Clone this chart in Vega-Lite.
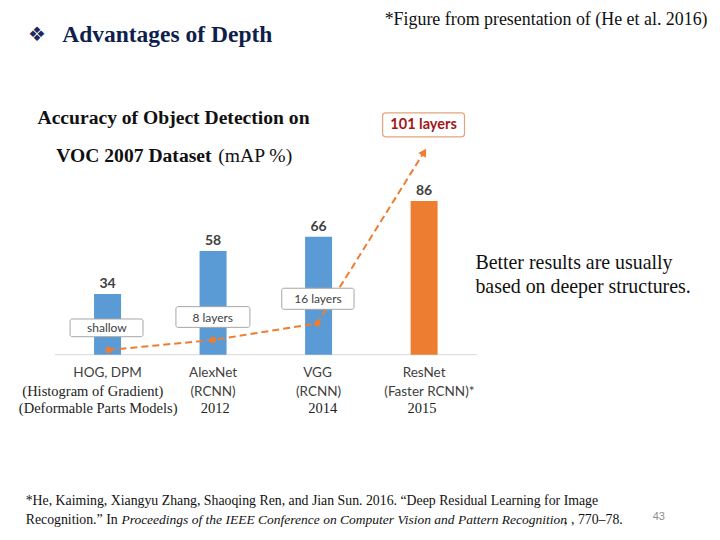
{
  "$schema": "https://vega.github.io/schema/vega-lite/v6.json",
  "width": 720,
  "height": 540,
  "padding": 0,
  "autosize": {"type": "fit", "contains": "padding"},
  "background": "white",
  "config": {"view": {"stroke": null}},
  "datasets": {
    "bars": [
      {"model": "HOG, DPM", "idx": 0, "mAP": 34, "family": "earlier"},
      {"model": "AlexNet", "idx": 1, "mAP": 58, "family": "earlier"},
      {"model": "VGG", "idx": 2, "mAP": 66, "family": "earlier"},
      {"model": "ResNet", "idx": 3, "mAP": 86, "family": "ResNet"}
    ],
    "depth": [
      {"step": 1, "x": 0.009, "y": 2.63},
      {"step": 2, "x": 1.0, "y": 8.23},
      {"step": 3, "x": 1.988, "y": 17.57},
      {"step": 4, "x": 3.0, "y": 113.4}
    ],
    "boxes": [
      {"label": "shallow", "kind": "gray", "x1": -0.355, "x2": 0.336, "y1": 10.07, "y2": 19.98, "tx": -0.006, "ty": 15.1},
      {"label": "8 layers", "kind": "gray", "x1": 0.648, "x2": 1.349, "y1": 15.3, "y2": 26.9, "tx": 0.997, "ty": 20.7},
      {"label": "16 layers", "kind": "gray", "x1": 1.651, "x2": 2.336, "y1": 25.4, "y2": 37.2, "tx": 1.994, "ty": 31.0},
      {"label": "101 layers", "kind": "red", "x1": 2.607, "x2": 3.383, "y1": 121.9, "y2": 135.3, "tx": 2.995, "ty": 128.6}
    ],
    "texts": [
      {"role": "bullet", "x": -0.668, "y": 178.9, "text": "❖"},
      {"role": "heading", "x": -0.43, "y": 178.9, "text": "Advantages of Depth"},
      {"role": "source", "x": 2.626, "y": 187.3, "text": "*Figure from presentation of (He et al. 2016)"},
      {"role": "subBold", "x": -0.664, "y": 132.5, "text": "Accuracy of Object Detection on"},
      {"role": "subBold", "x": -0.486, "y": 111.2, "text": "VOC 2007 Dataset"},
      {"role": "sub", "x": 1.05, "y": 111.2, "text": "(mAP %)"},
      {"role": "note", "x": 3.486, "y": 51.3, "text": "Better results are usually"},
      {"role": "note", "x": 3.486, "y": 37.9, "text": "based on deeper structures."},
      {"role": "catSans", "x": 0.0, "y": -10.4, "text": "HOG, DPM"},
      {"role": "catSans", "x": 1.0, "y": -10.4, "text": "AlexNet"},
      {"role": "catSans", "x": 1.0, "y": -20.7, "text": "(RCNN)"},
      {"role": "catSans", "x": 1.99, "y": -10.4, "text": "VGG"},
      {"role": "catSans", "x": 2.0, "y": -20.7, "text": "(RCNN)"},
      {"role": "catSans", "x": 3.0, "y": -10.4, "text": "ResNet"},
      {"role": "catSans", "x": 3.05, "y": -20.7, "text": "(Faster RCNN)*"},
      {"role": "catSerif", "x": -0.14, "y": -20.7, "text": "(Histogram of Gradient)"},
      {"role": "catSerif", "x": -0.089, "y": -30.4, "text": "(Deformable Parts Models)"},
      {"role": "catSerif", "x": 1.02, "y": -30.4, "text": "2012"},
      {"role": "catSerif", "x": 2.04, "y": -30.4, "text": "2014"},
      {"role": "catSerif", "x": 2.98, "y": -30.4, "text": "2015"},
      {"role": "ref", "x": -0.776, "y": -81.9, "text": "*He, Kaiming, Xiangyu Zhang, Shaoqing Ren, and Jian Sun. 2016. “Deep Residual Learning for Image"},
      {"role": "ref", "x": -0.776, "y": -92.5, "text": "Recognition.” In"},
      {"role": "refItalic", "x": 0.131, "y": -92.5, "text": "Proceedings of the IEEE Conference on Computer Vision and Pattern Recognition"},
      {"role": "ref", "x": 4.327, "y": -92.5, "text": ", , 770–78."},
      {"role": "page", "x": 5.224, "y": -90.8, "text": "43"}
    ]
  },
  "layer": [
    {
      "data": {"values": [{"from": -0.5, "to": 3.5, "level": 0}]},
      "mark": {"type": "rule", "color": "#D9D9D9", "strokeWidth": 1},
      "encoding": {
        "x": {"field": "from", "type": "quantitative", "scale": {"domain": [-0.972, 5.757], "nice": false, "zero": false}, "axis": null},
        "x2": {"field": "to"},
        "y": {"field": "level", "type": "quantitative", "scale": {"domain": [-103.69, 198.49], "nice": false, "zero": false}, "axis": null}
      }
    },
    {
      "data": {"name": "bars"},
      "mark": {"type": "bar", "size": 27},
      "encoding": {
        "x": {"field": "idx", "type": "quantitative", "scale": {"domain": [-0.972, 5.757], "nice": false, "zero": false}, "axis": null},
        "y": {"field": "mAP", "type": "quantitative", "scale": {"domain": [-103.69, 198.49], "nice": false, "zero": false}, "axis": null},
        "y2": {"datum": 0},
        "color": {"field": "family", "type": "nominal", "scale": {"domain": ["earlier", "ResNet"], "range": ["#5B9BD5", "#ED7D31"]}, "legend": null}
      }
    },
    {
      "data": {"name": "depth"},
      "mark": {"type": "line", "color": "#ED7D31", "strokeWidth": 2, "strokeDash": [7, 4]},
      "encoding": {
        "x": {"field": "x", "type": "quantitative", "scale": {"domain": [-0.972, 5.757], "nice": false, "zero": false}, "axis": null},
        "y": {"field": "y", "type": "quantitative", "scale": {"domain": [-103.69, 198.49], "nice": false, "zero": false}, "axis": null},
        "order": {"field": "step"}
      }
    },
    {
      "data": {"name": "depth"},
      "transform": [{"filter": "datum.step < 4"}],
      "mark": {"type": "point", "shape": "circle", "filled": true, "size": 40, "color": "#ED7D31", "opacity": 1},
      "encoding": {
        "x": {"field": "x", "type": "quantitative", "scale": {"domain": [-0.972, 5.757], "nice": false, "zero": false}, "axis": null},
        "y": {"field": "y", "type": "quantitative", "scale": {"domain": [-103.69, 198.49], "nice": false, "zero": false}, "axis": null}
      }
    },
    {
      "data": {"name": "depth"},
      "transform": [{"filter": "datum.step == 4"}],
      "mark": {"type": "point", "shape": "triangle-up", "filled": true, "size": 80, "angle": 32, "color": "#ED7D31", "opacity": 1},
      "encoding": {
        "x": {"field": "x", "type": "quantitative", "scale": {"domain": [-0.972, 5.757], "nice": false, "zero": false}, "axis": null},
        "y": {"field": "y", "type": "quantitative", "scale": {"domain": [-103.69, 198.49], "nice": false, "zero": false}, "axis": null}
      }
    },
    {
      "data": {"name": "boxes"},
      "transform": [{"filter": "datum.kind == 'gray'"}],
      "mark": {"type": "rect", "fill": "white", "stroke": "#A6A6A6", "strokeWidth": 1, "cornerRadius": 2},
      "encoding": {
        "x": {"field": "x1", "type": "quantitative", "scale": {"domain": [-0.972, 5.757], "nice": false, "zero": false}, "axis": null},
        "x2": {"field": "x2"},
        "y": {"field": "y1", "type": "quantitative", "scale": {"domain": [-103.69, 198.49], "nice": false, "zero": false}, "axis": null},
        "y2": {"field": "y2"}
      }
    },
    {
      "data": {"name": "boxes"},
      "transform": [{"filter": "datum.kind == 'red'"}],
      "mark": {"type": "rect", "fill": "white", "stroke": "#E2A47C", "strokeWidth": 1.2, "cornerRadius": 3},
      "encoding": {
        "x": {"field": "x1", "type": "quantitative", "scale": {"domain": [-0.972, 5.757], "nice": false, "zero": false}, "axis": null},
        "x2": {"field": "x2"},
        "y": {"field": "y1", "type": "quantitative", "scale": {"domain": [-103.69, 198.49], "nice": false, "zero": false}, "axis": null},
        "y2": {"field": "y2"}
      }
    },
    {
      "data": {"name": "boxes"},
      "transform": [{"filter": "datum.kind == 'gray'"}],
      "mark": {"type": "text", "font": "Lato", "fontSize": 12, "color": "#404040", "align": "center", "baseline": "middle"},
      "encoding": {
        "x": {"field": "tx", "type": "quantitative", "scale": {"domain": [-0.972, 5.757], "nice": false, "zero": false}, "axis": null},
        "y": {"field": "ty", "type": "quantitative", "scale": {"domain": [-103.69, 198.49], "nice": false, "zero": false}, "axis": null},
        "text": {"field": "label"}
      }
    },
    {
      "data": {"name": "boxes"},
      "transform": [{"filter": "datum.kind == 'red'"}],
      "mark": {"type": "text", "font": "Lato", "fontSize": 14.5, "fontWeight": "bold", "color": "#A0171C", "align": "center", "baseline": "middle"},
      "encoding": {
        "x": {"field": "tx", "type": "quantitative", "scale": {"domain": [-0.972, 5.757], "nice": false, "zero": false}, "axis": null},
        "y": {"field": "ty", "type": "quantitative", "scale": {"domain": [-103.69, 198.49], "nice": false, "zero": false}, "axis": null},
        "text": {"field": "label"}
      }
    },
    {
      "data": {"name": "bars"},
      "mark": {"type": "text", "font": "Lato", "fontSize": 14, "fontWeight": "bold", "color": "#404040", "align": "center", "baseline": "bottom", "dy": -3},
      "encoding": {
        "x": {"field": "idx", "type": "quantitative", "scale": {"domain": [-0.972, 5.757], "nice": false, "zero": false}, "axis": null},
        "y": {"field": "mAP", "type": "quantitative", "scale": {"domain": [-103.69, 198.49], "nice": false, "zero": false}, "axis": null},
        "text": {"field": "mAP"}
      }
    },
    {
      "data": {"name": "texts"},
      "transform": [{"filter": "datum.role == 'catSans'"}],
      "mark": {"type": "text", "font": "Lato", "fontSize": 13.5, "color": "#404040", "align": "center", "baseline": "middle"},
      "encoding": {
        "x": {"field": "x", "type": "quantitative", "scale": {"domain": [-0.972, 5.757], "nice": false, "zero": false}, "axis": null},
        "y": {"field": "y", "type": "quantitative", "scale": {"domain": [-103.69, 198.49], "nice": false, "zero": false}, "axis": null},
        "text": {"field": "text"}
      }
    },
    {
      "data": {"name": "texts"},
      "transform": [{"filter": "datum.role == 'catSerif'"}],
      "mark": {"type": "text", "font": "Liberation Serif", "fontSize": 14.5, "color": "#222222", "align": "center", "baseline": "middle"},
      "encoding": {
        "x": {"field": "x", "type": "quantitative", "scale": {"domain": [-0.972, 5.757], "nice": false, "zero": false}, "axis": null},
        "y": {"field": "y", "type": "quantitative", "scale": {"domain": [-103.69, 198.49], "nice": false, "zero": false}, "axis": null},
        "text": {"field": "text"}
      }
    },
    {
      "data": {"name": "texts"},
      "transform": [{"filter": "datum.role == 'bullet'"}],
      "mark": {"type": "text", "font": "DejaVu Sans", "fontSize": 20, "color": "#1B2A5A", "align": "center", "baseline": "middle"},
      "encoding": {
        "x": {"field": "x", "type": "quantitative", "scale": {"domain": [-0.972, 5.757], "nice": false, "zero": false}, "axis": null},
        "y": {"field": "y", "type": "quantitative", "scale": {"domain": [-103.69, 198.49], "nice": false, "zero": false}, "axis": null},
        "text": {"field": "text"}
      }
    },
    {
      "data": {"name": "texts"},
      "transform": [{"filter": "datum.role == 'heading'"}],
      "mark": {"type": "text", "font": "Liberation Serif", "fontSize": 23.5, "fontWeight": "bold", "color": "#0F1E4B", "align": "left", "baseline": "middle"},
      "encoding": {
        "x": {"field": "x", "type": "quantitative", "scale": {"domain": [-0.972, 5.757], "nice": false, "zero": false}, "axis": null},
        "y": {"field": "y", "type": "quantitative", "scale": {"domain": [-103.69, 198.49], "nice": false, "zero": false}, "axis": null},
        "text": {"field": "text"}
      }
    },
    {
      "data": {"name": "texts"},
      "transform": [{"filter": "datum.role == 'source'"}],
      "mark": {"type": "text", "font": "Liberation Serif", "fontSize": 17.9, "color": "#111111", "align": "left", "baseline": "middle"},
      "encoding": {
        "x": {"field": "x", "type": "quantitative", "scale": {"domain": [-0.972, 5.757], "nice": false, "zero": false}, "axis": null},
        "y": {"field": "y", "type": "quantitative", "scale": {"domain": [-103.69, 198.49], "nice": false, "zero": false}, "axis": null},
        "text": {"field": "text"}
      }
    },
    {
      "data": {"name": "texts"},
      "transform": [{"filter": "datum.role == 'subBold'"}],
      "mark": {"type": "text", "font": "Liberation Serif", "fontSize": 19.6, "fontWeight": "bold", "color": "#111111", "align": "left", "baseline": "middle"},
      "encoding": {
        "x": {"field": "x", "type": "quantitative", "scale": {"domain": [-0.972, 5.757], "nice": false, "zero": false}, "axis": null},
        "y": {"field": "y", "type": "quantitative", "scale": {"domain": [-103.69, 198.49], "nice": false, "zero": false}, "axis": null},
        "text": {"field": "text"}
      }
    },
    {
      "data": {"name": "texts"},
      "transform": [{"filter": "datum.role == 'sub'"}],
      "mark": {"type": "text", "font": "Liberation Serif", "fontSize": 19.6, "color": "#111111", "align": "left", "baseline": "middle"},
      "encoding": {
        "x": {"field": "x", "type": "quantitative", "scale": {"domain": [-0.972, 5.757], "nice": false, "zero": false}, "axis": null},
        "y": {"field": "y", "type": "quantitative", "scale": {"domain": [-103.69, 198.49], "nice": false, "zero": false}, "axis": null},
        "text": {"field": "text"}
      }
    },
    {
      "data": {"name": "texts"},
      "transform": [{"filter": "datum.role == 'note'"}],
      "mark": {"type": "text", "font": "Liberation Serif", "fontSize": 19.9, "color": "#111111", "align": "left", "baseline": "middle"},
      "encoding": {
        "x": {"field": "x", "type": "quantitative", "scale": {"domain": [-0.972, 5.757], "nice": false, "zero": false}, "axis": null},
        "y": {"field": "y", "type": "quantitative", "scale": {"domain": [-103.69, 198.49], "nice": false, "zero": false}, "axis": null},
        "text": {"field": "text"}
      }
    },
    {
      "data": {"name": "texts"},
      "transform": [{"filter": "datum.role == 'ref'"}],
      "mark": {"type": "text", "font": "Liberation Serif", "fontSize": 13.8, "color": "#111111", "align": "left", "baseline": "middle"},
      "encoding": {
        "x": {"field": "x", "type": "quantitative", "scale": {"domain": [-0.972, 5.757], "nice": false, "zero": false}, "axis": null},
        "y": {"field": "y", "type": "quantitative", "scale": {"domain": [-103.69, 198.49], "nice": false, "zero": false}, "axis": null},
        "text": {"field": "text"}
      }
    },
    {
      "data": {"name": "texts"},
      "transform": [{"filter": "datum.role == 'refItalic'"}],
      "mark": {"type": "text", "font": "Liberation Serif", "fontSize": 13.5, "fontStyle": "italic", "color": "#111111", "align": "left", "baseline": "middle"},
      "encoding": {
        "x": {"field": "x", "type": "quantitative", "scale": {"domain": [-0.972, 5.757], "nice": false, "zero": false}, "axis": null},
        "y": {"field": "y", "type": "quantitative", "scale": {"domain": [-103.69, 198.49], "nice": false, "zero": false}, "axis": null},
        "text": {"field": "text"}
      }
    },
    {
      "data": {"name": "texts"},
      "transform": [{"filter": "datum.role == 'page'"}],
      "mark": {"type": "text", "font": "Liberation Sans", "fontSize": 11, "color": "#8C8C8C", "align": "center", "baseline": "middle"},
      "encoding": {
        "x": {"field": "x", "type": "quantitative", "scale": {"domain": [-0.972, 5.757], "nice": false, "zero": false}, "axis": null},
        "y": {"field": "y", "type": "quantitative", "scale": {"domain": [-103.69, 198.49], "nice": false, "zero": false}, "axis": null},
        "text": {"field": "text"}
      }
    }
  ]
}
